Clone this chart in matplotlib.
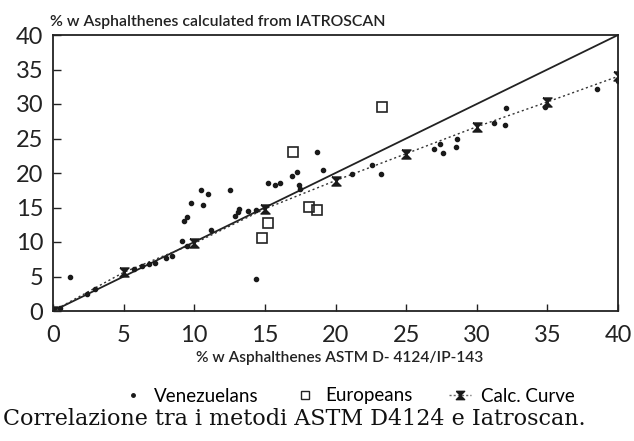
import matplotlib.pyplot as plt
from matplotlib.lines import Line2D

# Venezuelans (small dots)
ven_x = [0.5, 1.2, 2.4, 3.0, 5.7, 6.3, 6.8, 7.2, 8.0, 8.4, 9.1, 9.5, 9.3, 9.5, 9.8,
         10.5, 10.6, 11.0, 11.2, 12.5, 12.9, 13.1, 13.2, 13.8, 14.4, 14.4, 15.2, 15.7,
         16.1, 16.9, 17.3, 17.4, 17.5, 18.7, 19.1, 21.2, 22.6, 23.2, 27.0, 27.4, 27.6,
         28.5, 28.6, 31.2, 32.0, 32.1, 34.8, 38.5, 40.0]
ven_y = [0.5, 4.9, 2.5, 3.2, 6.1, 6.5, 6.8, 7.0, 7.7, 8.0, 10.2, 9.4, 13.1, 13.6, 15.6,
         17.5, 15.3, 17.0, 11.7, 17.6, 13.7, 14.3, 14.8, 14.5, 14.6, 4.6, 18.6, 18.3,
         18.5, 19.6, 20.2, 18.2, 17.7, 23.0, 20.4, 19.9, 21.1, 19.9, 23.5, 24.2, 22.9,
         23.7, 24.9, 27.2, 27.0, 29.4, 29.5, 32.2, 33.3]

# Europeans (open squares)
eur_x = [14.8, 15.2, 17.0, 18.1, 18.7, 23.3]
eur_y = [10.6, 12.7, 23.0, 15.1, 14.6, 29.6]

# calculated curve
calc_x = [0, 5, 10, 15, 20, 25, 30, 35, 40]
calc_y = [0.0, 5.6, 9.8, 14.8, 18.9, 22.8, 26.7, 30.3, 34.0]

# bisector y = x
diag = [0, 40]

ticks = [0, 5, 10, 15, 20, 25, 30, 35, 40]

hourglass = [(-1, 1), (1, 1), (-1, -1), (1, -1), (-1, 1)]

sans = 'Lato'
fig = plt.figure(figsize=(6.34, 4.41), dpi=100)
ax = fig.add_axes([53 / 634, 1 - 311 / 441, 565 / 634, 276 / 441])

ax.plot(diag, diag, color='#222222', lw=1.3)
ax.plot(calc_x, calc_y, color='#333333', lw=1.0, linestyle=(0, (1.5, 2)),
        marker=hourglass, markersize=6.5, markerfacecolor='#1a1a1a', markeredgecolor='#1a1a1a')
ax.plot(ven_x, ven_y, linestyle='None', marker='o', markersize=3, color='#1a1a1a')
ax.plot(eur_x, eur_y, linestyle='None', marker='s', markersize=7,
        markerfacecolor='none', markeredgecolor='#222222', markeredgewidth=1.2)

ax.set_xlim(0, 40)
ax.set_ylim(0, 40)
ax.set_xticks(ticks)
ax.set_yticks(ticks)
for lab in ax.get_xticklabels() + ax.get_yticklabels():
    lab.set_fontfamily(sans)
    lab.set_fontsize(17)
    lab.set_color('#222222')
ax.tick_params(axis='y', direction='in', length=6, width=1, pad=7, colors='#222222')
ax.tick_params(axis='x', direction='in', length=5, width=1, pad=10, colors='#222222')
for s in ax.spines.values():
    s.set_linewidth(1.3)
    s.set_color('#222222')

fig.text(50 / 634, 1 - 22 / 441, '% w Asphalthenes calculated from IATROSCAN',
         family=sans, fontsize=11.4, fontweight='semibold', va='center', ha='left', color='#222222')
fig.text(340 / 634, 1 - 358 / 441, '% w Asphalthenes ASTM D- 4124/IP-143',
         family=sans, fontsize=11.2, fontweight='semibold', va='center', ha='center', color='#222222')

handles = [
    Line2D([], [], linestyle='None', marker='o', markersize=2.5, color='#1a1a1a'),
    Line2D([], [], linestyle='None', marker='s', markersize=6, markerfacecolor='none',
           markeredgecolor='#222222'),
    Line2D([], [], color='#666666', lw=1.0, linestyle=(0, (1.5, 1.5)), marker=hourglass,
           markersize=6, markerfacecolor='#1a1a1a', markeredgecolor='#1a1a1a'),
]
leg = fig.legend(handles, ['Venezuelans', 'Europeans', 'Calc. Curve'], ncol=3, frameon=False,
                 loc='center', bbox_to_anchor=(348 / 634, 1 - 396 / 441),
                 prop={'family': sans, 'size': 13.5}, handlelength=1.2, handletextpad=0.5,
                 columnspacing=1.9, borderpad=0.1)

fig.text(3 / 634, 1 - 419 / 441, 'Correlazione tra i metodi ASTM D4124 e Iatroscan.',
         family='DejaVu Serif', fontsize=16, va='center', ha='left', color='#111111')

fig.savefig('out.png', dpi=100)
